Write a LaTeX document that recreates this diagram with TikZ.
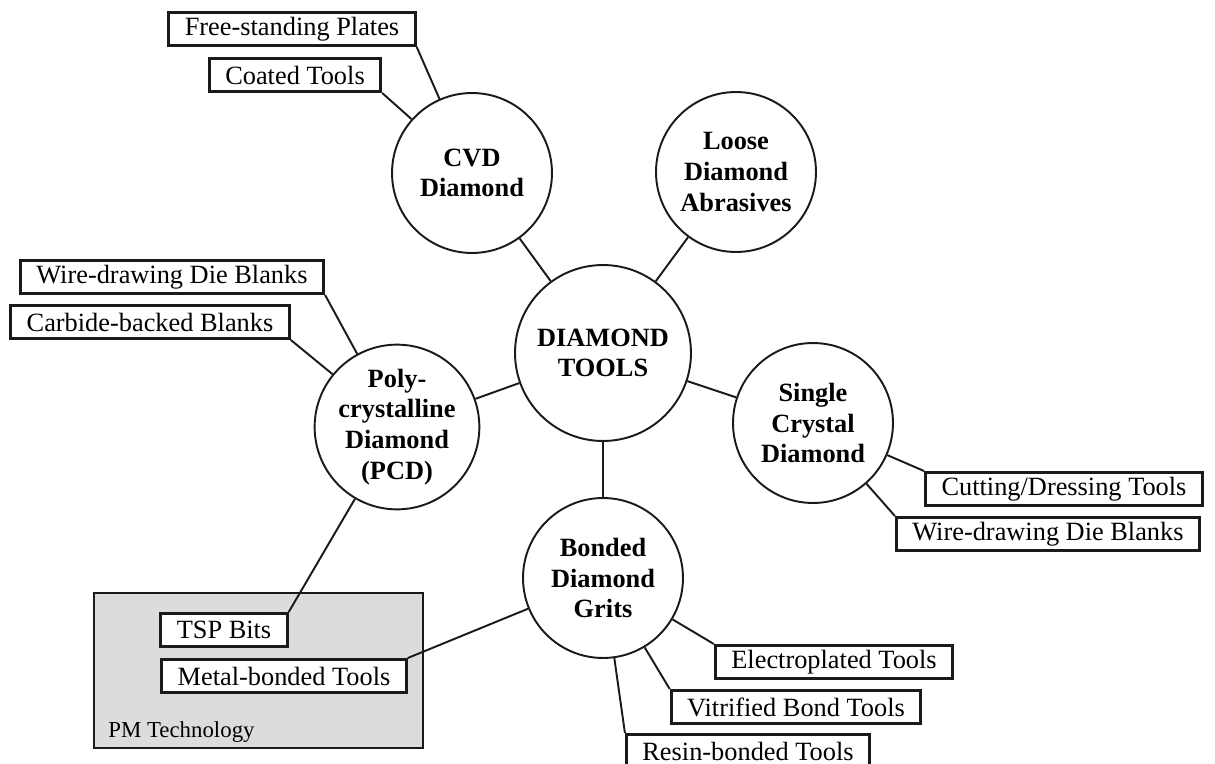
\documentclass[tikz,border=0pt]{standalone}
\usepackage{fontspec}
\setmainfont{Liberation Serif}
\usepackage{xcolor}
\usepackage{tikz}
\usetikzlibrary{positioning}
\definecolor{inkc}{HTML}{1A1A1A}
\definecolor{pmgray}{HTML}{DCDCDC}
\tikzset{
  hub/.style={circle,draw=inkc,line width=1.1pt,fill=white,align=center,inner sep=0pt,minimum size=3.2cm,font=\fontsize{15}{17.5}\selectfont\bfseries},
  leaf/.style={draw=inkc,line width=1.7pt,fill=white,inner xsep=0.32cm,inner ysep=0pt,minimum height=0.66cm,font=\fontsize{15}{17}\selectfont},
  link/.style={inkc,line width=1.1pt}
}
\begin{document}
\begin{tikzpicture}[x=0.02cm,y=-0.02cm]
\useasboundingbox (0,0) rectangle (1215,764);
\fill[white] (0,0) rectangle (1215,764);
\draw[inkc,line width=1.7pt,fill=pmgray] (94,593) rectangle (423,748);
\node[anchor=base west,inner sep=0pt,font=\fontsize{13}{15}\selectfont] (pmt) at (108,737) {PM Technology};

\node[hub,minimum size=3.52cm] (dt) at (603,353) {DIAMOND\\TOOLS};
\node[hub] (cvd) at (472,173) {CVD\\Diamond};
\node[hub] (loose) at (736,172) {Loose\\Diamond\\Abrasives};
\node[hub,minimum size=3.28cm] (pcd) at (397,427) {Poly-\\crystalline\\Diamond\\(PCD)};
\node[hub] (scd) at (813,423) {Single\\Crystal\\Diamond};
\node[hub] (bdg) at (603,578) {Bonded\\Diamond\\Grits};

\node[leaf] (fsp) at (292,29) {Free-standing Plates};
\node[leaf] (coat) at (295,75) {Coated Tools};
\node[leaf] (wdl) at (172,277) {Wire-drawing Die Blanks};
\node[leaf] (carb) at (150,322) {Carbide-backed Blanks};
\node[leaf] (tsp) at (224,630) {TSP Bits};
\node[leaf] (metal) at (284,676) {Metal-bonded Tools};
\node[leaf] (elec) at (834,662) {Electroplated Tools};
\node[leaf] (vitr) at (796,707) {Vitrified Bond Tools};
\node[leaf] (resin) at (748,751) {Resin-bonded Tools};
\node[leaf] (cut) at (1064,489) {Cutting/Dressing Tools};
\node[leaf] (wdr) at (1048,534) {Wire-drawing Die Blanks};

\draw[link] (dt) -- (cvd);
\draw[link] (dt) -- (loose);
\draw[link] (dt) -- (pcd);
\draw[link] (dt) -- (scd);
\draw[link] (dt) -- (bdg);
\draw[link] (fsp.south east) -- (cvd);
\draw[link] (coat.south east) -- (cvd);
\draw[link] (wdl.south east) -- (pcd);
\draw[link] (carb.south east) -- (pcd);
\draw[link] (tsp.north east) -- (pcd);
\draw[link] (metal.north east) -- (bdg);
\draw[link] (elec.north west) -- (bdg);
\draw[link] (vitr.north west) -- (bdg);
\draw[link] (resin.north west) -- (bdg);
\draw[link] (cut.north west) -- (scd);
\draw[link] (wdr.north west) -- (scd);
\end{tikzpicture}
\end{document}
